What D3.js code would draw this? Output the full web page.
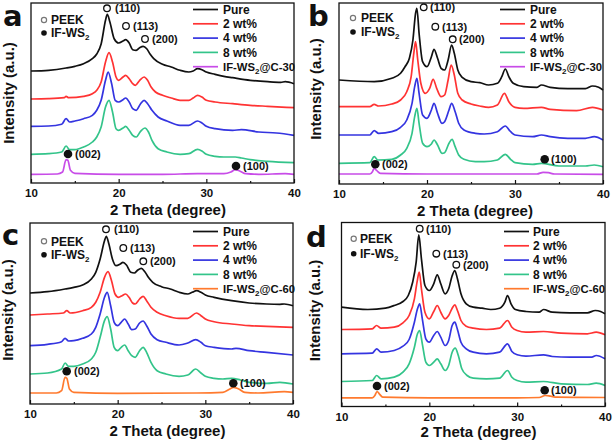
<!DOCTYPE html>
<html><head><meta charset="utf-8">
<script src="https://cdn.jsdelivr.net/npm/d3@7/dist/d3.min.js"></script>
<style>
body{margin:0;background:#fff}
svg{display:block}
text{font-family:"Liberation Sans",Arial,sans-serif;font-weight:bold;fill:#111}
</style>
</head><body>
<svg id="chart" width="614" height="444"></svg>
<script>
// ---------- DATA ----------
const xTicks = [10, 20, 30, 40];
const xMinorTicks = [15, 25, 35];
const seriesLabels = ["Pure", "2 wt%", "4 wt%", "8 wt%"];
const refLabelA = "@C-30";   // IF-WS2@C-30
const refLabelC = "@C-60";   // IF-WS2@C-60
const peakLabels = ["(110)", "(113)", "(200)", "(002)", "(100)"];
const phaseLabels = ["PEEK", "IF-WS"];
const panelLetters = ["a", "b", "c", "d"];

// panel a (2θ, relative intensity)
const aPure = [[10,112],[12,112.7],[14,115],[15,116.7],[16,119.3],[17,124.3],[17.5,129],[18,139],[18.5,162.7],[18.7,168.7],[19,161],[19.5,144],[20,140],[20.5,142],[20.8,143.3],[21.2,140],[21.6,133.3],[22,132.7],[22.4,135.3],[22.8,136.7],[23.2,134.3],[23.6,128.7],[24,124.3],[25,118.7],[26,116],[27,112.7],[28,111],[28.5,112],[29,114.3],[29.5,113.3],[30,111],[31,108.7],[32,106.7],[33,105.3],[35,102.7],[37,101.3],[38.5,100.7],[39,101.3],[40,99.3]];
const a2wt = [[10,84],[12,84.3],[13.8,85.3],[14,86.7],[14.3,85.3],[16,86.7],[17,89.3],[17.5,92.7],[18,101],[18.5,121],[18.9,130.3],[19.3,121],[19.7,106],[20,102.7],[20.5,106],[20.8,107.7],[21.2,104.3],[21.6,99.3],[21.9,97.7],[22.4,102.7],[22.9,106],[23.3,102.7],[23.7,96],[24.2,91],[25,87.7],[26,85],[27,82.7],[28,82.7],[28.5,85],[29,87.7],[29.5,86],[30,82.7],[31,81],[33,79.3],[35,77.7],[37,76.7],[40,75.3]];
const a4wt = [[10,56.7],[12,57],[13.5,58.7],[14,64.3],[14.4,61],[15,62],[16,64.3],[17,67.7],[17.5,72.7],[18,82.7],[18.5,102.7],[18.8,111],[19.2,99.3],[19.6,82.7],[20,81],[20.5,83.3],[20.8,85],[21.2,81],[21.6,74.3],[22,72.7],[22.5,79.3],[22.9,82.7],[23.3,79.3],[23.8,72.7],[24.5,66],[25.5,62],[27,57.7],[28,57.7],[29,62],[29.5,60],[30,56.7],[31,54.3],[33,52.7],[34,53.3],[36,51],[38,50],[40,47.7]];
const a8wt = [[10,28.7],[12,29.3],[13.5,31],[14,37],[14.4,33.3],[15,33.3],[16,36],[17,41],[17.5,46],[18,56],[18.5,76],[18.9,82.7],[19.3,71],[19.7,54.3],[20,52.7],[20.5,55],[20.8,56.7],[21.2,52.7],[21.6,47.7],[22,46],[22.5,51.7],[23,55],[23.4,51],[23.8,42.7],[24.5,34.3],[25.5,31],[27,28.7],[28,29.3],[29,33.7],[29.5,32],[30,28.7],[31,26.7],[32,26],[33.3,26],[34,25],[35,23.3],[37,21.7],[40,20.3]];
const aRef = [[10,8.7],[13,9],[13.6,11],[14,23.3],[14.2,22.7],[14.5,12.7],[15,9.7],[20,8.7],[25,8.7],[29,9.3],[32,9.3],[32.8,11],[33.3,13.3],[33.8,12],[34.5,9.3],[36,8.7],[39,9.3],[40,8.7]];

// panel b
const bPure = [[10,104],[14,102.3],[16,105.7],[17,110.7],[17.5,117.3],[18,125.7],[18.4,144],[18.7,170.7],[18.85,175.7],[19.1,150.7],[19.5,122.3],[20,117.3],[20.5,127.3],[20.8,134.7],[21.2,125.7],[21.6,115.7],[22,114],[22.4,124],[22.8,139],[23.1,130.7],[23.5,114],[24,106.7],[25,102.3],[26,101.3],[27,99],[28,100.7],[28.5,107.3],[28.9,115],[29.3,107.3],[29.8,100.7],[31,97.3],[32.5,96.7],[33,99],[34,96.7],[36,95.3],[38,95.3],[38.8,98],[39.5,96.7],[40,94]];
const b2wt = [[10,77.3],[13.5,77.3],[14,79.7],[14.5,78],[16,80],[17,84],[17.7,92.3],[18.2,107.3],[18.5,130.7],[18.7,142.3],[18.95,124],[19.3,100.7],[19.8,90.7],[20.3,95.7],[20.7,104.7],[21.1,95.7],[21.6,87.3],[22,89],[22.4,104],[22.75,119],[23.1,109],[23.5,90.7],[24,84],[25,80],[26,78],[27,76.7],[28,79],[28.8,90.7],[29.3,82.3],[30,76.7],[31,75.7],[33,76.7],[34,74.7],[37,73.3],[38.8,76.7],[40,74]];
const b4wt = [[10,49],[13.5,49],[14,53.3],[14.5,50.7],[16,52.3],[17,56.7],[17.7,64],[18.3,80.7],[18.6,97.3],[18.85,105.7],[19.1,90.7],[19.5,69],[20,65.7],[20.5,74],[20.8,80.7],[21.2,70.7],[21.7,60.7],[22,62.3],[22.5,74],[22.8,80.7],[23.2,72.3],[23.6,60.7],[24.2,54],[25.5,50.7],[26.5,50],[28,52.3],[28.9,58],[29.5,52.3],[30,49],[32,47.3],[33,49],[34,47.3],[36,45.7],[38,45.7],[39,47.3],[40,44]];
const b8wt = [[10,20.7],[13.5,21.3],[14,27.3],[14.4,24],[16,24.7],[17,29],[17.7,35.7],[18.3,50.7],[18.6,67.3],[18.85,75.7],[19.1,60.7],[19.5,40.7],[20,37.3],[20.5,40],[20.8,44],[21.2,39],[21.7,30.7],[22,31.3],[22.5,40.7],[22.85,44.7],[23.2,37.3],[23.6,29],[24.2,24.7],[25.5,22.3],[26.5,22.3],[28,24],[28.9,29.7],[29.5,24.7],[30,21.3],[32,19.7],[33,20.7],[35,18],[38,18],[39,19],[40,17.3]];
const bRef = [[10,10],[13.5,10],[13.8,12.3],[14,15.7],[14.3,13.3],[14.7,10.7],[20,10],[30,10],[32.5,10],[33.2,11.7],[33.8,11.3],[34.5,10],[40,9.7]];

// panel c
const cPure = [[10,111],[12,112.3],[14,115],[15,116.7],[16,119],[17,125],[17.5,131.7],[18,145],[18.5,163.3],[18.7,167.7],[19,160],[19.4,145],[19.8,138.3],[20.3,140],[20.6,141.7],[21,139],[21.5,131.7],[21.9,131],[22.3,134],[22.7,135.7],[23.1,132.3],[23.5,126.7],[24,121.7],[25,117.3],[26,115],[27,111.7],[28,110],[28.5,111.7],[29,113.3],[29.5,111.7],[30,109],[31,106.7],[33,103.3],[35,101],[37,100],[38.5,99.7],[39,100],[40,98.3]];
const c2wt = [[10,89],[12,90],[13.8,91],[14.2,93.3],[14.6,91],[16,93.3],[17,96.7],[17.5,101.7],[18,111.7],[18.5,126.7],[18.9,132.3],[19.3,123.3],[19.7,110],[20.1,106.7],[20.5,108.3],[20.9,110],[21.3,106.7],[21.7,101],[22,100],[22.5,105],[22.9,107.7],[23.3,103.3],[23.8,96.7],[24.5,91.7],[25.5,88.3],[27,85.7],[28,85.7],[29,91],[29.5,88.3],[30,85],[31,82.3],[33,80],[35,78.3],[37,77.7],[40,76.7]];
const c4wt = [[10,58.3],[12,59.7],[13.6,62.3],[14,65.7],[14.4,63],[15,63.3],[16,65.7],[17,70],[17.5,76.7],[18,90],[18.5,106.7],[18.8,111.7],[19.2,98.3],[19.6,81.7],[20,78.3],[20.4,81.7],[20.8,85],[21.2,80],[21.6,74.3],[22,75],[22.5,81],[22.9,83],[23.3,78.3],[23.8,70],[24.5,64.3],[25.5,61.7],[27,59],[28,61],[28.9,64.3],[29.5,61.7],[30,58.3],[31,56.7],[33,55],[33.5,55.7],[35,53.3],[37,51.7],[40,49]];
const c8wt = [[10,30],[12,31],[13.6,35],[14,41],[14.4,37.7],[15,37.7],[16,40],[17,45],[17.5,51.7],[18,66.7],[18.5,83.3],[18.8,87.3],[19.2,75],[19.6,56.7],[20,53.3],[20.4,56.7],[20.8,59],[21.2,53.3],[21.6,48.3],[22,46.7],[22.5,53.3],[22.9,56.7],[23.3,51.7],[23.8,41.7],[24.5,33.3],[25.5,30],[27,27.7],[28,29],[28.9,35],[29.5,31],[30,27.7],[31,25.7],[32,25],[33,25.7],[34,24],[35,21.7],[37,20.7],[38.5,21.7],[40,20]];
const cRef = [[10,11],[13,11],[13.6,13.3],[14,26.7],[14.2,25.7],[14.5,15],[15,11.7],[20,10.7],[29,11],[32,11.7],[32.8,15],[33.2,16.7],[33.8,15],[34.5,11.7],[36,11],[39,12.3],[40,11.7]];

// panel d
const dPure = [[10,99.3],[13,97],[15,98.3],[16,101],[17,105],[17.6,111],[18.1,124.3],[18.5,144.3],[18.8,171.7],[19.1,147.7],[19.5,121],[20,116],[20.5,122.7],[20.9,131.7],[21.3,122.7],[21.8,112.7],[22.2,117.7],[22.6,130.7],[22.9,136],[23.2,127.7],[23.6,112.7],[24.2,102.7],[25,99.3],[26,98.3],[27,97],[28,98.3],[28.6,104.3],[28.9,111],[29.3,102.7],[29.8,97],[31,95],[32.5,94.3],[33,97],[34,94.3],[36,93.7],[38,93.7],[38.9,96],[39.5,95],[40,92.7]];
const d2wt = [[10,77],[13.5,77.7],[14,81],[14.5,78.3],[16,79.3],[17,83.7],[17.7,91],[18.3,107.7],[18.6,124.3],[18.85,134.3],[19.1,117.7],[19.5,94.3],[20,87.7],[20.5,95],[20.9,101],[21.3,94.3],[21.8,87.7],[22.2,91],[22.6,98.3],[22.9,101.7],[23.2,96],[23.6,86],[24.2,80.3],[25,78.3],[26.5,77],[28,78.3],[28.9,86],[29.4,79.3],[30,76],[31,74.3],[33,75],[35,73.3],[38,72.7],[39,74.3],[40,71.7]];
const d4wt = [[10,52.7],[13.5,53.3],[14,57.7],[14.5,54.3],[16,56],[17,60.3],[17.7,67],[18.3,84.3],[18.65,97.7],[18.9,102.7],[19.2,87.7],[19.6,67.7],[20,64.3],[20.5,71],[20.9,75],[21.3,69.3],[21.8,61],[22.2,66],[22.6,81],[22.9,84.3],[23.2,77],[23.6,64.3],[24.2,57.7],[25,54.3],[26.5,52.7],[28,54.3],[28.9,62.7],[29.4,55],[30,51.7],[31,50.3],[33,51.7],[34,50],[36,49.3],[38.5,49.3],[39,51],[40,47.7]];
const d8wt = [[10,25],[13.5,26],[14,31],[14.5,27.7],[16,29.3],[17,34.3],[17.7,42.7],[18.3,59.3],[18.65,72.7],[18.9,76],[19.2,62.7],[19.6,44.3],[20,41],[20.5,44.3],[20.9,47.7],[21.3,42.7],[21.8,36],[22.2,41],[22.6,54.3],[22.95,58.3],[23.3,51],[23.7,37.7],[24.3,31],[25,28.3],[26.5,27.7],[28,28.3],[28.9,36],[29.4,29.3],[30,26],[31,24.3],[33,25],[35,22.7],[38,22],[39,23.3],[40,21]];
const dRef = [[10,8.7],[13.5,8.7],[13.8,11],[14.05,15],[14.3,12.7],[14.7,9.3],[20,8.7],[30,8.7],[32.5,9],[33.2,11],[33.8,10.3],[34.5,9.3],[40,9]];

// ---------- LAYOUT / STYLE ----------
const colors = ["#111111", "#ff3333", "#3434e0", "#33c48a"];
const refColorA = "#c84ce8", refColorC = "#ff7a2e";

const panels = [
  {letter:0, series:[aPure,a2wt,a4wt,a8wt,aRef], refLbl:refLabelA, refColor:refColorA, yMax:180,
   frame:{l:31,t:3,r:294,b:183}, lt:[3,26], yl:[9,93], xl:[168,215],
   leg:{x1:193,x2:218,tx:223,y0:9.5}, ph:{cx:44,tx:51,y1:20,y2:33},
   pk:[[107,8.3,115],[126,26,133],[145,39,152],[68,154,75],[236,166,243]]},
  {letter:1, series:[bPure,b2wt,b4wt,b8wt,bRef], refLbl:refLabelA, refColor:refColorA, yMax:181,
   frame:{l:339,t:3,r:603,b:184}, lt:[308,26], yl:[316,89], xl:[475,216],
   leg:{x1:500,x2:525,tx:530,y0:9.5}, ph:{cx:353,tx:361,y1:18,y2:32},
   pk:[[423.7,7.3,430],[435.3,26.7,442],[452.7,39.3,459],[375.3,164.3,382],[544.7,159.3,551]]},
  {letter:2, series:[cPure,c2wt,c4wt,c8wt,cRef], refLbl:refLabelC, refColor:refColorC, yMax:181,
   frame:{l:30,t:223,r:293,b:404}, lt:[2,245], yl:[8,310], xl:[167.5,436],
   leg:{x1:193,x2:218,tx:223,y0:231.5}, ph:{cx:44,tx:51,y1:241.3,y2:254.7},
   pk:[[106,229.3,114],[123.3,248,130],[143.3,261.3,150],[66.7,371.3,74],[233.3,383.3,240]]},
  {letter:3, series:[dPure,d2wt,d4wt,d8wt,dRef], refLbl:refLabelC, refColor:refColorC, yMax:184,
   frame:{l:341.5,t:222.5,r:605,b:406.5}, lt:[306,247], yl:[314.5,310.5], xl:[478.5,437],
   leg:{x1:504,x2:529,tx:533,y0:231.5}, ph:{cx:353.7,tx:360,y1:238.7,y2:253.7},
   pk:[[419.7,228.7,426],[436.3,253.7,443],[456.3,264.7,463],[377,386,384],[544.7,390.3,551]]}
];

const svg = d3.select("#chart");

panels.forEach(p => {
  const f = p.frame;
  const g = svg.append("g");
  const x = d3.scaleLinear().domain([xTicks[0], xTicks[xTicks.length-1]]).range([f.l, f.r]);
  const y = d3.scaleLinear().domain([0, p.yMax]).range([f.b, f.t]);

  // curves
  const line = d3.line().x(d => x(d[0])).y(d => y(d[1])).curve(d3.curveMonotoneX);
  const cols = colors.concat([p.refColor]);
  p.series.slice().reverse().forEach((s, i) => {
    const idx = p.series.length - 1 - i;
    g.append("path").datum(s).attr("d", line)
      .attr("fill", "none").attr("stroke", cols[idx]).attr("stroke-width", 1.7)
      .attr("stroke-linejoin", "round");
  });

  // axes ticks (inward)
  const axis = d3.axisBottom(x).tickValues(xTicks).tickSize(-4).tickPadding(8).tickFormat(d3.format("d"));
  const ag = g.append("g").attr("transform", `translate(0,${f.b})`).call(axis);
  ag.select(".domain").remove();
  ag.selectAll(".tick line").attr("stroke", "#111").attr("stroke-width", 1.2);
  ag.selectAll(".tick text").attr("font-size", 11.5).attr("font-weight", "bold")
    .attr("font-family", '"Liberation Sans",Arial,sans-serif').attr("fill", "#111")
    .attr("dy", "0.71em").attr("y", 6);
  const minor = d3.axisBottom(x).tickValues(xMinorTicks).tickSize(-2).tickFormat("");
  const mg = g.append("g").attr("transform", `translate(0,${f.b})`).call(minor);
  mg.select(".domain").remove();
  mg.selectAll(".tick line").attr("stroke", "#111").attr("stroke-width", 1.2);

  // frame
  g.append("rect").attr("x", f.l).attr("y", f.t).attr("width", f.r - f.l).attr("height", f.b - f.t)
    .attr("fill", "none").attr("stroke", "#111").attr("stroke-width", 1.3);

  // letter
  g.append("text").attr("x", p.lt[0]).attr("y", p.lt[1]).attr("font-size", 29)
    .style("font-family", '"DejaVu Sans",sans-serif').text(panelLetters[p.letter]);

  // axis titles
  g.append("text").attr("x", p.xl[0]).attr("y", p.xl[1]).attr("text-anchor", "middle")
    .attr("font-size", 15).text("2 Theta (degree)");
  g.append("text").attr("transform", `translate(${p.yl[0]+5},${p.yl[1]}) rotate(-90)`)
    .attr("text-anchor", "middle").attr("font-size", 15).text("Intensity (a.u.)");

  // legend
  const rowH = 14.3;
  cols.forEach((c, i) => {
    const yy = p.leg.y0 + i * rowH;
    g.append("line").attr("x1", p.leg.x1).attr("x2", p.leg.x2).attr("y1", yy).attr("y2", yy)
      .attr("stroke", c).attr("stroke-width", 1.7);
    const t = g.append("text").attr("x", p.leg.tx).attr("y", yy + 4.2).attr("font-size", 12);
    if (i < 4) t.text(seriesLabels[i]);
    else {
      t.attr("font-size", 11.3);
      t.append("tspan").text("IF-WS");
      t.append("tspan").attr("font-size", 8).attr("dy", 3).text("2");
      t.append("tspan").attr("dy", -3).text(p.refLbl);
    }
  });

  // phase legend
  g.append("circle").attr("cx", p.ph.cx).attr("cy", p.ph.y1).attr("r", 2.6)
    .attr("fill", "none").attr("stroke", "#777").attr("stroke-width", 1.2);
  g.append("text").attr("x", p.ph.tx).attr("y", p.ph.y1 + 4.2).attr("font-size", 12).text(phaseLabels[0]);
  g.append("circle").attr("cx", p.ph.cx).attr("cy", p.ph.y2).attr("r", 2.8).attr("fill", "#111");
  const t2 = g.append("text").attr("x", p.ph.tx).attr("y", p.ph.y2 + 4.2).attr("font-size", 12);
  t2.append("tspan").text(phaseLabels[1]);
  t2.append("tspan").attr("font-size", 8).attr("dy", 3).text("2");

  // peak labels
  p.pk.forEach((k, i) => {
    if (i < 3) {
      g.append("circle").attr("cx", k[0]).attr("cy", k[1]).attr("r", 3.3)
        .attr("fill", "#fff").attr("stroke", "#111").attr("stroke-width", 1.3);
    } else {
      g.append("circle").attr("cx", k[0]).attr("cy", k[1]).attr("r", 4.3).attr("fill", "#111");
    }
    g.append("text").attr("x", k[2]).attr("y", k[1] + 4).attr("font-size", 11).text(peakLabels[i]);
  });
});
</script>
</body></html>
